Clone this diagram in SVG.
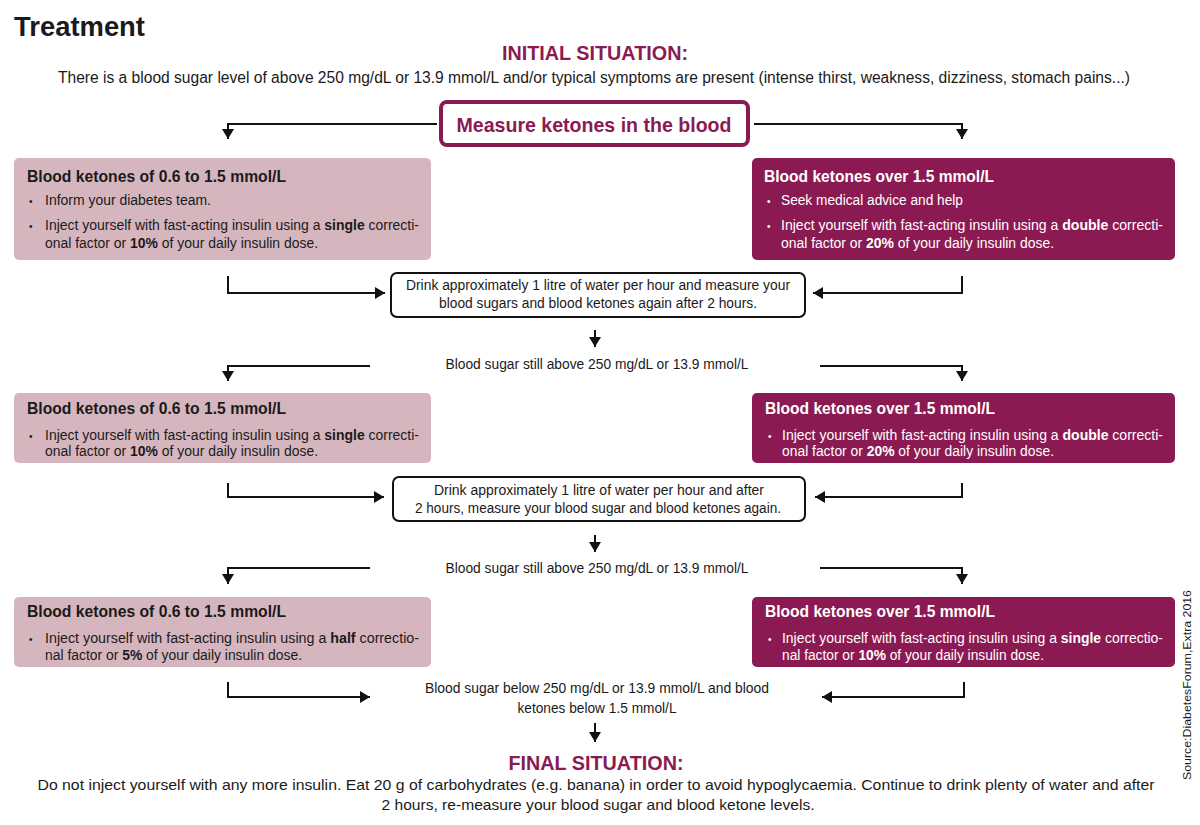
<svg xmlns="http://www.w3.org/2000/svg" width="1200" height="825" viewBox="0 0 1200 825">
<style>
text{font-family:"Liberation Sans",Arial,sans-serif;fill:#1a1a1a}
.t{font-size:14px}
.h{font-size:16px;font-weight:bold}
.w{fill:#fff}
.b{font-weight:bold}
.pk{fill:#d5b6bf}
.pu{fill:#8b1a52}
.mid{font-size:14px;text-anchor:middle}
.pt{fill:#8b1a52;font-weight:bold;text-anchor:middle}
.conn{fill:none;stroke:#111;stroke-width:2}
.bul{font-size:10px}
</style>
<defs>
<marker id="ah" markerUnits="userSpaceOnUse" markerWidth="10" markerHeight="12" refX="10" refY="6" orient="auto">
<path d="M0,0 L10,6 L0,12 z" fill="#111"/>
</marker>
</defs>
<rect width="1200" height="825" fill="#fff"/>
<g id="header">
<text x="14" y="36" font-size="27" textLength="131" lengthAdjust="spacingAndGlyphs" style="font-weight:600">Treatment</text>
<text class="pt" x="595" y="60" font-size="20" textLength="186" lengthAdjust="spacingAndGlyphs">INITIAL SITUATION:</text>
<text x="594" y="83" font-size="16" text-anchor="middle" textLength="1072" lengthAdjust="spacingAndGlyphs">There is a blood sugar level of above 250 mg/dL or 13.9 mmol/L and/or typical symptoms are present (intense thirst, weakness, dizziness, stomach pains...)</text>
</g>
<g id="measure">
<rect x="441" y="102" width="307" height="43" rx="6" fill="#fff" stroke="#8b1a52" stroke-width="4"/>
<text class="pt" x="594" y="132" font-size="21" textLength="275" lengthAdjust="spacingAndGlyphs">Measure ketones in the blood</text>
</g>
<g id="left1">
<rect class="pk" x="14" y="158" width="417" height="102" rx="5"/>
<text class="h" x="27" y="182" textLength="259" lengthAdjust="spacingAndGlyphs">Blood ketones of 0.6 to 1.5 mmol/L</text>
<text class="bul" x="29" y="205">•</text>
<text class="t" x="45" y="205" textLength="166" lengthAdjust="spacingAndGlyphs">Inform your diabetes team.</text>
<text class="bul" x="29" y="230">•</text>
<text class="t" x="45" y="230" textLength="374" lengthAdjust="spacingAndGlyphs">Inject yourself with fast-acting insulin using a <tspan class="b">single</tspan> correcti-</text>
<text class="t" x="45" y="248" textLength="273" lengthAdjust="spacingAndGlyphs">onal factor or <tspan class="b">10%</tspan> of your daily insulin dose.</text>
</g>
<g id="right1">
<rect class="pu" x="752" y="158" width="423" height="102" rx="5"/>
<text class="h w" x="764" y="182" textLength="230" lengthAdjust="spacingAndGlyphs">Blood ketones over 1.5 mmol/L</text>
<text class="bul w" x="767" y="205">•</text>
<text class="t w" x="781" y="205" textLength="182" lengthAdjust="spacingAndGlyphs">Seek medical advice and help</text>
<text class="bul w" x="767" y="230">•</text>
<text class="t w" x="781" y="230" textLength="382" lengthAdjust="spacingAndGlyphs">Inject yourself with fast-acting insulin using a <tspan class="b w">double</tspan> correcti-</text>
<text class="t w" x="781" y="248" textLength="273" lengthAdjust="spacingAndGlyphs">onal factor or <tspan class="b w">20%</tspan> of your daily insulin dose.</text>
</g>
<g id="drink1">
<rect x="391" y="273" width="414" height="44" rx="6" fill="#fff" stroke="#111" stroke-width="2"/>
<text class="mid" x="598" y="290" textLength="384" lengthAdjust="spacingAndGlyphs">Drink approximately 1 litre of water per hour and measure your</text>
<text class="mid" x="598" y="308" textLength="318" lengthAdjust="spacingAndGlyphs">blood sugars and blood ketones again after 2 hours.</text>
</g>
<g id="still1">
<text class="mid" x="597" y="369" textLength="303" lengthAdjust="spacingAndGlyphs">Blood sugar still above 250 mg/dL or 13.9 mmol/L</text>
</g>
<g id="left2">
<rect class="pk" x="14" y="393" width="417" height="70" rx="5"/>
<text class="h" x="27" y="414" textLength="259" lengthAdjust="spacingAndGlyphs">Blood ketones of 0.6 to 1.5 mmol/L</text>
<text class="bul" x="29" y="440">•</text>
<text class="t" x="45" y="440" textLength="374" lengthAdjust="spacingAndGlyphs">Inject yourself with fast-acting insulin using a <tspan class="b">single</tspan> correcti-</text>
<text class="t" x="45" y="456" textLength="273" lengthAdjust="spacingAndGlyphs">onal factor or <tspan class="b">10%</tspan> of your daily insulin dose.</text>
</g>
<g id="right2">
<rect class="pu" x="752" y="393" width="423" height="70" rx="5"/>
<text class="h w" x="765" y="414" textLength="230" lengthAdjust="spacingAndGlyphs">Blood ketones over 1.5 mmol/L</text>
<text class="bul w" x="768" y="440">•</text>
<text class="t w" x="782" y="440" textLength="381" lengthAdjust="spacingAndGlyphs">Inject yourself with fast-acting insulin using a <tspan class="b w">double</tspan> correcti-</text>
<text class="t w" x="782" y="456" textLength="272" lengthAdjust="spacingAndGlyphs">onal factor or <tspan class="b w">20%</tspan> of your daily insulin dose.</text>
</g>
<g id="drink2">
<rect x="393" y="477" width="412" height="44" rx="6" fill="#fff" stroke="#111" stroke-width="2"/>
<text class="mid" x="599" y="495" textLength="330" lengthAdjust="spacingAndGlyphs">Drink approximately 1 litre of water per hour and after</text>
<text class="mid" x="598" y="513" textLength="366" lengthAdjust="spacingAndGlyphs">2 hours, measure your blood sugar and blood ketones again.</text>
</g>
<g id="still2">
<text class="mid" x="597" y="573" textLength="303" lengthAdjust="spacingAndGlyphs">Blood sugar still above 250 mg/dL or 13.9 mmol/L</text>
</g>
<g id="left3">
<rect class="pk" x="14" y="597" width="417" height="70" rx="5"/>
<text class="h" x="27" y="617" textLength="259" lengthAdjust="spacingAndGlyphs">Blood ketones of 0.6 to 1.5 mmol/L</text>
<text class="bul" x="29" y="643">•</text>
<text class="t" x="45" y="643" textLength="374" lengthAdjust="spacingAndGlyphs">Inject yourself with fast-acting insulin using a <tspan class="b">half</tspan> correctio-</text>
<text class="t" x="45" y="660" textLength="257" lengthAdjust="spacingAndGlyphs">nal factor or <tspan class="b">5%</tspan> of your daily insulin dose.</text>
</g>
<g id="right3">
<rect class="pu" x="752" y="597" width="423" height="70" rx="5"/>
<text class="h w" x="765" y="617" textLength="230" lengthAdjust="spacingAndGlyphs">Blood ketones over 1.5 mmol/L</text>
<text class="bul w" x="768" y="643">•</text>
<text class="t w" x="782" y="643" textLength="381" lengthAdjust="spacingAndGlyphs">Inject yourself with fast-acting insulin using a <tspan class="b w">single</tspan> correctio-</text>
<text class="t w" x="782" y="660" textLength="262" lengthAdjust="spacingAndGlyphs">nal factor or <tspan class="b w">10%</tspan> of your daily insulin dose.</text>
</g>
<g id="below">
<text class="mid" x="597" y="693" textLength="344" lengthAdjust="spacingAndGlyphs">Blood sugar below 250 mg/dL or 13.9 mmol/L and blood</text>
<text class="mid" x="597" y="713" textLength="159" lengthAdjust="spacingAndGlyphs">ketones below 1.5 mmol/L</text>
</g>
<g id="final">
<text class="pt" x="596" y="770" font-size="20" textLength="175" lengthAdjust="spacingAndGlyphs">FINAL SITUATION:</text>
<text x="596" y="790" font-size="15" text-anchor="middle" textLength="1117" lengthAdjust="spacingAndGlyphs">Do not inject yourself with any more insulin. Eat 20 g of carbohydrates (e.g. banana) in order to avoid hypoglycaemia. Continue to drink plenty of water and after</text>
<text x="598" y="810" font-size="15" text-anchor="middle" textLength="433" lengthAdjust="spacingAndGlyphs">2 hours, re-measure your blood sugar and blood ketone levels.</text>
</g>
<g id="source">
<text x="0" y="0" font-size="11" textLength="190" lengthAdjust="spacingAndGlyphs" transform="translate(1191,780) rotate(-90)">Source:DiabetesForum,Extra 2016</text>
</g>
<g id="connectors">
<polyline class="conn" points="437,124 228,124 228,139" marker-end="url(#ah)"/>
<polyline class="conn" points="754,124 962,124 962,139" marker-end="url(#ah)"/>
<polyline class="conn" points="228,276 228,293 385,293" marker-end="url(#ah)"/>
<polyline class="conn" points="962,276 962,293 813,293" marker-end="url(#ah)"/>
<line class="conn" x1="595" y1="330" x2="595" y2="347" marker-end="url(#ah)"/>
<polyline class="conn" points="370,366 228,366 228,381" marker-end="url(#ah)"/>
<polyline class="conn" points="820,366 962,366 962,381" marker-end="url(#ah)"/>
<polyline class="conn" points="228,483 228,497 384,497" marker-end="url(#ah)"/>
<polyline class="conn" points="962,483 962,497 815,497" marker-end="url(#ah)"/>
<line class="conn" x1="595" y1="535" x2="595" y2="552" marker-end="url(#ah)"/>
<polyline class="conn" points="370,568 228,568 228,584" marker-end="url(#ah)"/>
<polyline class="conn" points="820,568 962,568 962,584" marker-end="url(#ah)"/>
<polyline class="conn" points="228,682 228,697 370,697" marker-end="url(#ah)"/>
<polyline class="conn" points="964,682 964,697 822,697" marker-end="url(#ah)"/>
<line class="conn" x1="595" y1="723" x2="595" y2="742" marker-end="url(#ah)"/>
</g>
</svg>
